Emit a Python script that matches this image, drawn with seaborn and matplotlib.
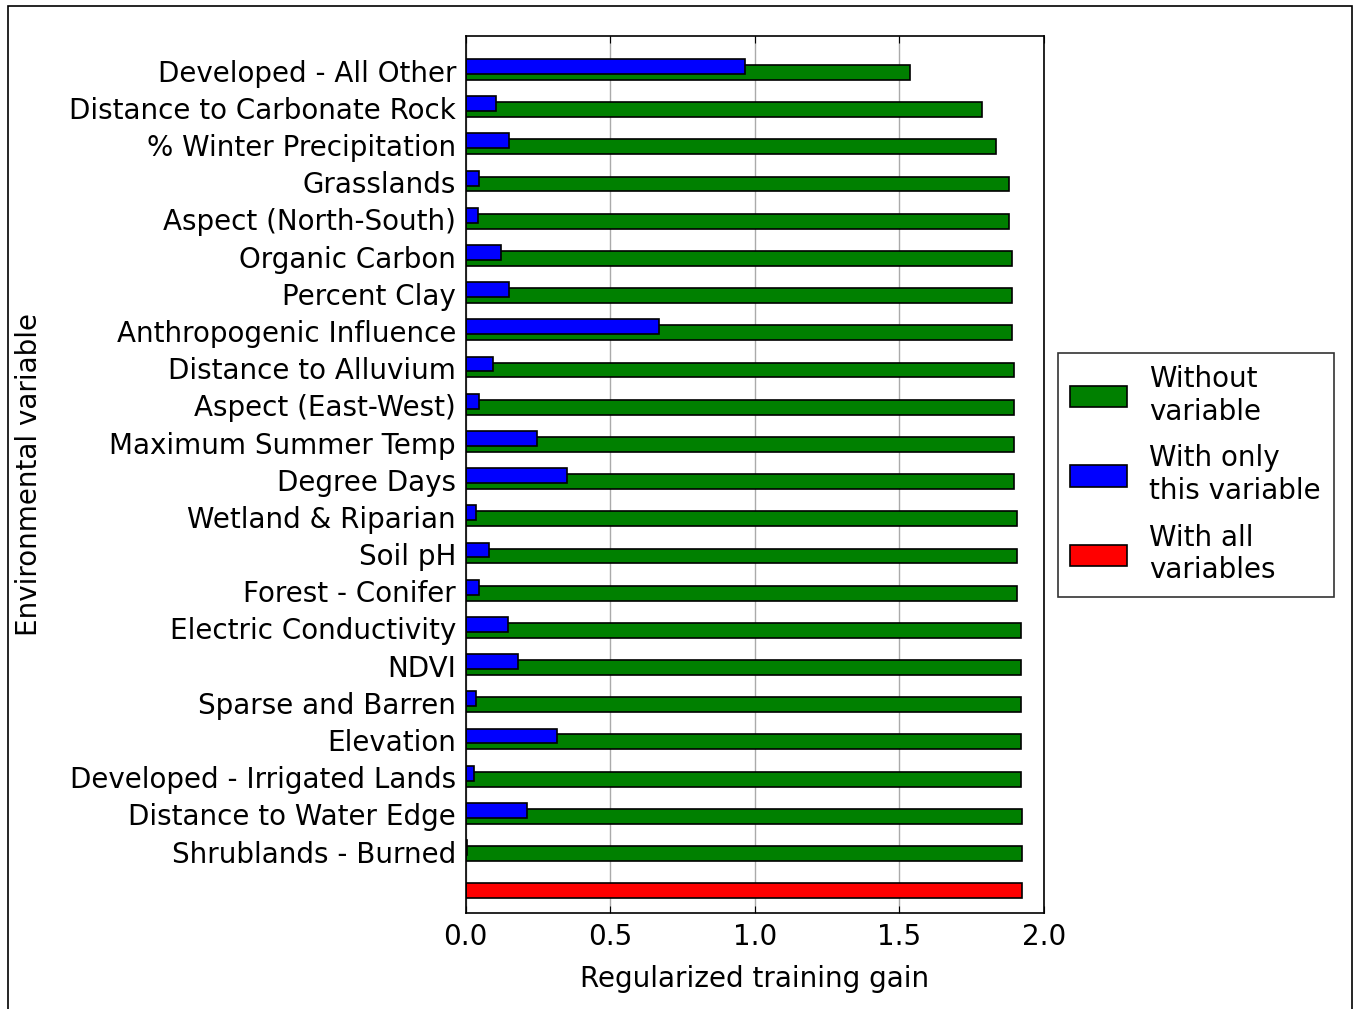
import numpy as np
import pandas as pd
import matplotlib
matplotlib.use("Agg")
import matplotlib.pyplot as plt
import seaborn as sns
from matplotlib.patches import Patch, Rectangle

# ---- data (top to bottom) ----
variables = [
    "Developed - All Other",
    "Distance to Carbonate Rock",
    "% Winter Precipitation",
    "Grasslands",
    "Aspect (North-South)",
    "Organic Carbon",
    "Percent Clay",
    "Anthropogenic Influence",
    "Distance to Alluvium",
    "Aspect (East-West)",
    "Maximum Summer Temp",
    "Degree Days",
    "Wetland & Riparian",
    "Soil pH",
    "Forest - Conifer",
    "Electric Conductivity",
    "NDVI",
    "Sparse and Barren",
    "Elevation",
    "Developed - Irrigated Lands",
    "Distance to Water Edge",
    "Shrublands - Burned",
]
without_gain = [1.537, 1.787, 1.834, 1.880, 1.880, 1.890, 1.890, 1.890,
                1.895, 1.895, 1.895, 1.895, 1.907, 1.907, 1.907, 1.919,
                1.919, 1.919, 1.919, 1.919, 1.925, 1.925]
only_gain = [0.966, 0.105, 0.151, 0.046, 0.041, 0.122, 0.151, 0.669,
             0.093, 0.046, 0.245, 0.350, 0.034, 0.082, 0.046, 0.146,
             0.180, 0.034, 0.314, 0.029, 0.211, 0.003]
all_gain = [1.925]
legend_labels = ["Without\nvariable", "With only\nthis variable", "With all\nvariables"]
colors = ["#008000", "#0000ff", "#ff0000"]

sns.set_style("white")
plt.rcParams["font.family"] = ["DejaVu Sans"]
plt.rcParams["text.color"] = "black"
plt.rcParams["axes.labelcolor"] = "black"
plt.rcParams["xtick.color"] = "black"
plt.rcParams["ytick.color"] = "black"

n = len(variables)
rows = np.arange(n, 0, -1)
BAR_H = 0.4
BLUE_SHIFT = 0.16
FS = 20

df_without = pd.DataFrame({"gain": without_gain, "pos": rows + BAR_H / 2})
df_only = pd.DataFrame({"gain": only_gain, "pos": rows + BLUE_SHIFT + BAR_H / 2})
df_all = pd.DataFrame({"gain": all_gain, "pos": [BAR_H / 2]})

fig = plt.figure(figsize=(13.54, 10.09), dpi=100)
ax = fig.add_axes([0.344, 0.0948, 0.427, 0.8695])

common = dict(x="gain", y="pos", orient="y", native_scale=True, width=BAR_H,
              saturation=1, edgecolor="black", linewidth=1.2, errorbar=None, ax=ax)
sns.barplot(data=df_without, color=colors[0], **common)
sns.barplot(data=df_only, color=colors[1], **common)
sns.barplot(data=df_all, color=colors[2], **common)

ax.set_yticks(rows + 0.25)
ax.set_yticklabels(variables)
ax.set_ylim(-0.41, 23.18)
ax.set_xlim(0, 2)
ax.set_xticks([0, 0.5, 1.0, 1.5, 2.0])
ax.set_xticklabels(["0.0", "0.5", "1.0", "1.5", "2.0"])
ax.xaxis.grid(True, color="#aaaaaa", linewidth=1)
ax.yaxis.grid(False)
ax.set_axisbelow(True)
ax.tick_params(axis="x", direction="in", top=True, bottom=True, length=5,
               color="black", labelsize=FS, pad=7)
ax.tick_params(axis="y", length=0, labelsize=FS, pad=7)
for s in ax.spines.values():
    s.set_visible(True)
    s.set_color("black")
    s.set_linewidth(1.2)

ax.set_xlabel("Regularized training gain", fontsize=FS, labelpad=10)
ax.set_ylabel("Environmental variable", fontsize=FS)
ax.yaxis.set_label_coords(-0.732, 0.5)

handles = [Patch(facecolor=c, edgecolor="black", linewidth=1.2) for c in colors]
leg = ax.legend(handles, legend_labels, loc="center left", bbox_to_anchor=(1.024, 0.5),
                frameon=True, fancybox=False, edgecolor="black", fontsize=FS,
                handlelength=2.05, handleheight=0.8, borderpad=0.45, labelspacing=0.68,
                handletextpad=0.8, borderaxespad=0)
leg.get_frame().set_linewidth(1.2)

fig.patches.append(Rectangle((8 / 1354, -0.02), (1352 - 8) / 1354, 1.02 - 6 / 1009,
                             transform=fig.transFigure, fill=False,
                             edgecolor="black", linewidth=1.2))

fig.savefig("out.png", dpi=100)
